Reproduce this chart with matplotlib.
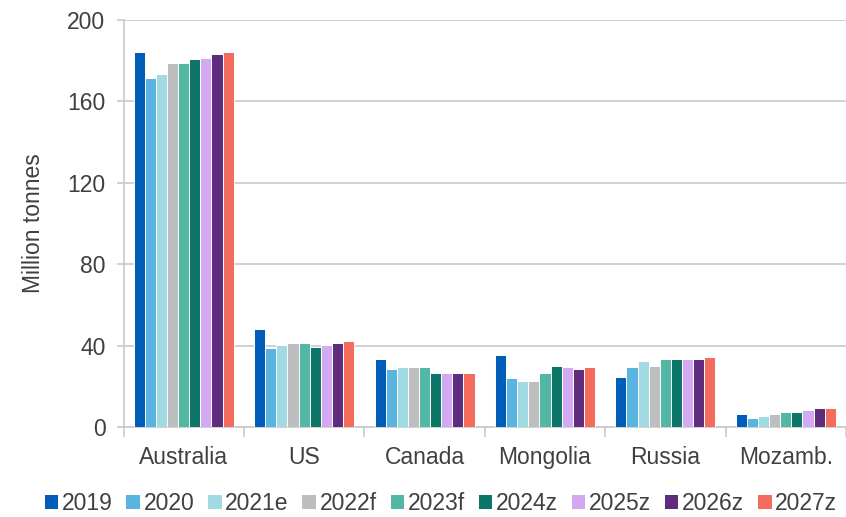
import matplotlib
matplotlib.use("Agg")
import matplotlib.pyplot as plt
import numpy as np
from matplotlib.patches import Patch

categories = ["Australia", "US", "Canada", "Mongolia", "Russia", "Mozamb."]
series_names = ["2019", "2020", "2021e", "2022f", "2023f", "2024z", "2025z", "2026z", "2027z"]

v2019 = [184.2, 48.2, 33.2, 35.3, 24.8, 6.2]
v2020 = [171.7, 38.6, 28.4, 24.0, 29.4, 4.3]
v2021e = [173.4, 40.3, 29.3, 22.4, 32.4, 5.4]
v2022f = [178.9, 41.3, 29.3, 22.4, 30.2, 6.4]
v2023f = [178.9, 41.3, 29.3, 26.3, 33.2, 7.4]
v2024z = [180.9, 39.4, 26.3, 30.2, 33.2, 7.4]
v2025z = [181.3, 40.3, 26.3, 29.3, 33.2, 8.3]
v2026z = [183.2, 41.3, 26.3, 28.3, 33.2, 9.5]
v2027z = [184.3, 42.3, 26.3, 29.3, 34.2, 9.5]

series_values = [v2019, v2020, v2021e, v2022f, v2023f, v2024z, v2025z, v2026z, v2027z]
colors = ["#005EB8", "#5AB4E0", "#A0DAE2", "#BCBEC0", "#52B7A4",
          "#0C7769", "#D3AAF2", "#5F2C7E", "#F46C5B"]

yticks = [0, 40, 80, 120, 160, 200]

plt.rcParams['font.family'] = ['Liberation Sans', 'DejaVu Sans']
text_color = "#404040"
grid_color = "#C9C9C9"

fig = plt.figure(figsize=(8.46, 5.17), dpi=100)
ax = fig.add_axes([123.5 / 846, 1 - 427 / 517, (846 - 123.5) / 846, (427 - 20) / 517])

n = len(series_names)
slot = 0.0923
x = np.arange(len(categories))
for i, (name, vals, c) in enumerate(zip(series_names, series_values, colors)):
    offs = (i - (n - 1) / 2) * slot
    ax.bar(x + offs, vals, width=slot, color=c, edgecolor="white", linewidth=0.7,
           label=name, zorder=3)

ax.set_xlim(-0.5, len(categories) - 0.5)
ax.set_ylim(0, 200)
ax.set_yticks(yticks)
ax.set_yticklabels([str(t) for t in yticks], fontsize=16.5, color=text_color)
ax.yaxis.grid(True, color=grid_color, linewidth=1.2, zorder=0)
ax.set_axisbelow(True)

ax.set_xticks(x)
ax.set_xticklabels(categories, fontsize=16.5, color=text_color)
ax.tick_params(axis='x', which='major', length=0, pad=14)
ax.set_xticks(np.arange(len(categories) + 1) - 0.5, minor=True)
ax.tick_params(axis='x', which='minor', length=7, width=1.2, color=grid_color, direction='out')
ax.tick_params(axis='y', length=5, width=1.2, color=grid_color, pad=8)

for s in ["top", "right"]:
    ax.spines[s].set_visible(False)
ax.spines["left"].set_color(grid_color)
ax.spines["left"].set_linewidth(1.2)
ax.spines["bottom"].set_color(grid_color)
ax.spines["bottom"].set_linewidth(1.2)

ax.set_ylabel("Million tonnes", fontsize=16.5, color=text_color, labelpad=16)

handles = [Patch(facecolor=c, edgecolor="none") for c in colors]
leg = fig.legend(handles, series_names, loc="center", bbox_to_anchor=(0.521, 0.026),
                 ncol=n, frameon=False, fontsize=16.5, handlelength=0.6, handleheight=0.6,
                 handletextpad=0.15, columnspacing=0.6, borderaxespad=0)
for t in leg.get_texts():
    t.set_color(text_color)

fig.savefig("out.png", dpi=100)
